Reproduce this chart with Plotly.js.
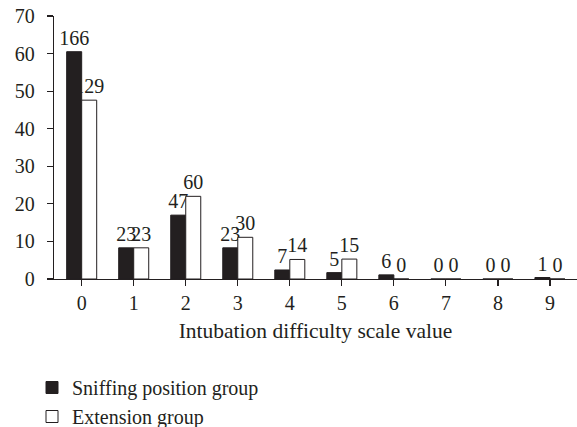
<!DOCTYPE html>
<html>
<head>
<meta charset="utf-8">
<script src="https://cdn.plot.ly/plotly-3.0.1.min.js"></script>
<style>html,body{margin:0;padding:0;background:#fff}#chart{width:577px;height:427px}</style>
</head>
<body>
<div id="chart"></div>
<script>
var categories = ["0","1","2","3","4","5","6","7","8","9"];
var sniffingPercent = [60.5, 8.3, 17.0, 8.3, 2.4, 1.7, 1.1, 0, 0, 0.4];
var extensionPercent = [47.6, 8.3, 22.0, 11.1, 5.2, 5.3, 0, 0, 0, 0];
var sniffingCounts = ["166","23","47","23","7","5","6","0","0","1"];
var extensionCounts = ["129","23","60","30","14","15","0","0","0","0"];
var seriesNames = ["Sniffing position group", "Extension group"];
var xTitle = "Intubation difficulty scale value";

var ink = "#231f20";
var fontFam = "Liberation Serif";

var traces = [
  {
    type: "bar", name: seriesNames[0], x: categories, y: sniffingPercent,
    text: sniffingCounts, textposition: "outside", constraintext: "none", textangle: 0,
    cliponaxis: false, textfont: {family: fontFam, size: 20, color: ink},
    marker: {color: ink, line: {color: ink, width: 1}}, legendgroup: "a", hoverinfo: "skip"
  },
  {
    type: "bar", name: seriesNames[1], x: categories, y: extensionPercent,
    text: extensionCounts, textposition: "outside", constraintext: "none", textangle: 0,
    cliponaxis: false, textfont: {family: fontFam, size: 20, color: ink},
    marker: {color: "#ffffff", line: {color: ink, width: 1}}, legendgroup: "b", hoverinfo: "skip"
  }
];

var layout = {
  width: 577, height: 427,
  margin: {l: 54, r: 0, t: 16, b: 148, pad: 0, autoexpand: false},
  paper_bgcolor: "#fff", plot_bgcolor: "#fff",
  font: {family: fontFam, size: 20, color: ink},
  barmode: "group", bargap: 0.423, bargroupgap: 0,
  showlegend: true,
  legend: {
    orientation: "v", xref: "container", yref: "container",
    x: 32/577, xanchor: "left", y: 1 - 368/427, yanchor: "top",
    font: {family: fontFam, size: 20, color: ink},
    tracegroupgap: 0, bgcolor: "rgba(0,0,0,0)", borderwidth: 0, traceorder: "normal"
  },
  xaxis: {
    type: "category", range: [-0.532, 9.52], automargin: false,
    showline: true, linecolor: ink, linewidth: 1.2,
    ticks: "outside", ticklen: 6, tickcolor: ink, tickwidth: 1.2,
    showgrid: false, zeroline: false,
    tickfont: {family: fontFam, size: 20, color: ink},
    title: {text: xTitle, font: {family: fontFam, size: 21.5, color: ink}, standoff: 9}
  },
  yaxis: {
    range: [0, 70], dtick: 10, tick0: 0, automargin: false,
    showline: true, linecolor: ink, linewidth: 1.2,
    ticks: "outside", ticklen: 6, tickcolor: ink, tickwidth: 1.2,
    showgrid: false, zeroline: false,
    tickfont: {family: fontFam, size: 20, color: ink},
    ticklabelstandoff: 8
  }
};

Plotly.newPlot("chart", traces, layout, {staticPlot: true, displayModeBar: false});
</script>
</body>
</html>
